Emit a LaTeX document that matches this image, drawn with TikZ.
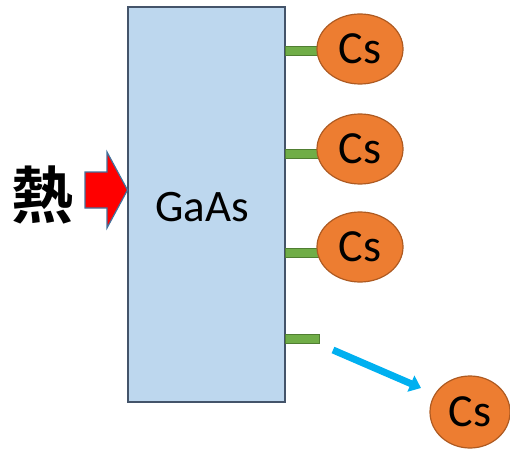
\documentclass[tikz,border=0pt]{standalone}
\usepackage{fontspec}
\setmainfont{Carlito}
\newfontfamily\cjk{Noto Sans CJK JP}[BoldFont={* Bold}]
\usetikzlibrary{shapes.geometric,arrows.meta}
\definecolor{slabfill}{HTML}{BDD7EE}
\definecolor{slabline}{HTML}{44546A}
\definecolor{csfill}{HTML}{ED7D31}
\definecolor{csline}{HTML}{AE5A21}
\definecolor{bondfill}{HTML}{70AD47}
\definecolor{bondline}{HTML}{507E32}
\definecolor{flyline}{HTML}{00B0F0}
\definecolor{heatline}{HTML}{41719C}
\tikzset{
  cs/.style={ellipse, draw=csline, fill=csfill, line width=1.2pt,
    minimum width=86pt, minimum height=70pt, inner sep=0pt,
    font=\fontsize{46}{46}\selectfont},
  bond/.style={draw=bondline, fill=bondfill, line width=1.2pt,
    minimum width=34pt, minimum height=9pt, inner sep=0pt}
}
\begin{document}
\begin{tikzpicture}[x=1pt,y=-1pt]
                        \useasboundingbox (0,0) rectangle (510,449);
                        % Slab (left)
                        \node[draw=slabline, fill=slabfill, line width=1.5pt,
                          minimum width=157pt, minimum height=395pt, inner sep=0pt]
                          (gaas) at (206.5,204.5) {};
                        \node[font=\fontsize{45}{45}\selectfont] (gaaslabel) at (202,207) {GaAs};
                        % Heat
                        \node[font=\cjk\bfseries\fontsize{62}{62}\selectfont] (heat) at (42,195) {熱};
                        \draw[draw=heatline, fill=red, line width=1.2pt]
                          (85,172) -- (107,172) -- (107,152) -- (127.5,190)
                          -- (107,228) -- (107,208) -- (85,208) -- cycle;
                        % Bonds and Cs (right)
                        \node[bond] (bond1) at (302.5,51) {};
                        \node[bond] (bond2) at (302.5,154) {};
                        \node[bond] (bond3) at (302.5,253) {};
                        \node[bond] (bond4) at (302.5,339) {};
                        \node[cs] (cs1) at (360,49) {Cs};
                        \node[cs] (cs2) at (360,149) {Cs};
                        \node[cs] (cs3) at (360,247) {Cs};
                        \node[cs, minimum width=80pt, minimum height=72pt] (cs4) at (470,412) {Cs};
                        % Desorbed Cs
                        \coordinate (flyfrom) at (333,350);
                        \coordinate (flyto) at (421,388);
                        \draw[flyline, line width=7pt, -{Triangle[length=11pt,width=17pt]}] (flyfrom) -- (flyto);
        \end{tikzpicture}
\end{document}
